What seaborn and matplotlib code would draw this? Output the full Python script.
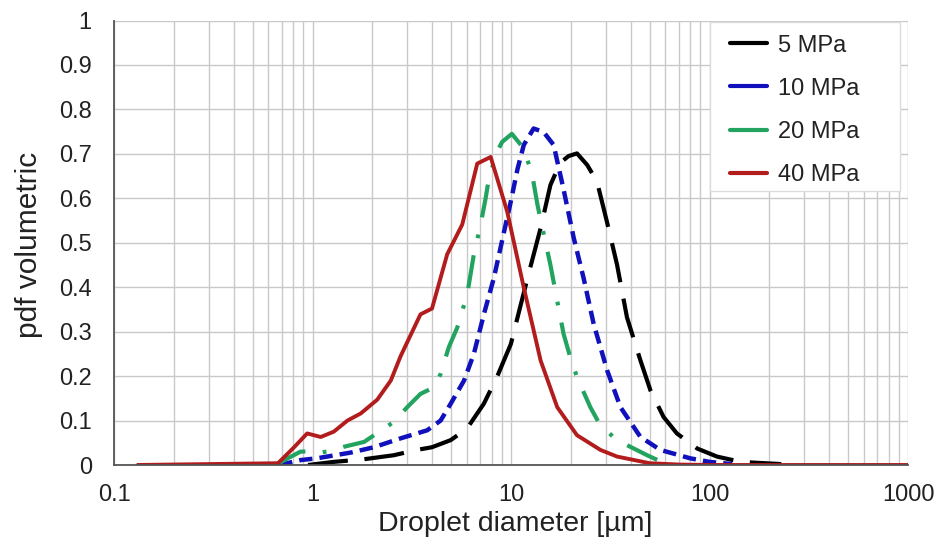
import numpy as np
import pandas as pd
import matplotlib
matplotlib.use("Agg")
import matplotlib.pyplot as plt
import seaborn as sns
from matplotlib.lines import Line2D
from matplotlib.patches import Rectangle
from matplotlib.ticker import FixedLocator, FuncFormatter, NullFormatter

# ---- data ----
labels = ["5 MPa", "10 MPa", "20 MPa", "40 MPa"]

x_5 = [0.95, 1.28, 1.82, 2.57, 3.36, 4.0, 4.97, 6.0, 7.3, 8.5, 9.98, 11.1, 12.5,
       14.1, 15.8, 17.7, 19.5, 21.5, 24.2, 27.1, 30.4, 34.2, 38.4, 44.9, 50.4, 58.7,
       68.5, 86.8, 109, 144, 230]
y_5 = [0, 0.007, 0.013, 0.022, 0.034, 0.04, 0.056, 0.082, 0.138, 0.198, 0.272, 0.354,
       0.444, 0.533, 0.63, 0.68, 0.695, 0.701, 0.675, 0.638, 0.548, 0.451, 0.332, 0.235,
       0.168, 0.108, 0.071, 0.037, 0.019, 0.007, 0.002]

x_10 = [0.68, 0.87, 1.05, 1.56, 2.04, 2.78, 3.78, 4.42, 4.97, 5.8, 6.5, 7.3, 8.2,
        9.24, 9.98, 10.8, 11.6, 13.0, 14.6, 16.4, 18.4, 20.7, 23.2, 26.1, 30.5, 35.6,
        44.9, 56.5, 80, 100, 130]
y_10 = [0, 0.011, 0.015, 0.028, 0.04, 0.06, 0.078, 0.1, 0.138, 0.19, 0.25, 0.339,
        0.421, 0.526, 0.593, 0.667, 0.72, 0.757, 0.749, 0.72, 0.62, 0.511, 0.421, 0.317,
        0.213, 0.13, 0.063, 0.034, 0.015, 0.007, 0.002]

x_20 = [0.65, 0.75, 0.87, 1.0, 1.1, 1.25, 1.44, 1.82, 2.57, 3.0, 3.5, 4.1, 4.42,
        4.86, 5.36, 6.02, 6.5, 7.03, 7.45, 7.74, 8.5, 9.03, 10.1, 11.6, 12.8, 13.6, 14.4,
        15.8, 17.1, 18.4, 19.9, 21.5, 25.1, 28.2, 34.2, 48.5, 60]
y_20 = [0, 0.015, 0.03, 0.031, 0.028, 0.032, 0.041, 0.052, 0.097, 0.13, 0.16, 0.175,
        0.205, 0.265, 0.309, 0.384, 0.474, 0.541, 0.6, 0.645, 0.705, 0.727, 0.745, 0.712,
        0.652, 0.585, 0.533, 0.45, 0.369, 0.295, 0.242, 0.198, 0.13, 0.089, 0.056, 0.022,
        0.003]

x_40 = [0.13, 0.67, 0.8, 0.94, 1.1, 1.28, 1.5, 1.75, 2.12, 2.48, 2.78, 3.5, 4.0, 4.77,
        5.68, 6.76, 7.9, 9.57, 11.6, 14.1, 17.1, 21.5, 28.2, 34.2, 50, 70, 100, 1000]
y_40 = [0, 0.004, 0.038, 0.071, 0.063, 0.075, 0.1, 0.116, 0.147, 0.19, 0.245, 0.339,
        0.352, 0.474, 0.541, 0.678, 0.693, 0.57, 0.399, 0.235, 0.13, 0.067, 0.034, 0.019,
        0.004, 0.001, 0, 0]

x_ticks = [0.1, 1, 10, 100, 1000]
y_ticks = [0, 0.1, 0.2, 0.3, 0.4, 0.5, 0.6, 0.7, 0.8, 0.9, 1]

series = [(x_5, y_5), (x_10, y_10), (x_20, y_20), (x_40, y_40)]
colors = ["#000000", "#1010bc", "#22a460", "#b21c1c"]
dashes = [(9.6, 4.0), (3.0, 1.6), (8.0, 4.2, 0.9, 4.2), None]
widths = [3.0, 3.2, 3.0, 2.8]

# ---- figure ----
sns.set_style("white")
plt.rcParams["font.family"] = ["Liberation Sans", "DejaVu Sans"]
fig = plt.figure(figsize=(9.38, 5.46), dpi=100)
L, R, B, T = 114, 908, 465, 20.5
ax = fig.add_axes([L / 938, 1 - B / 546, (R - L) / 938, (B - T) / 546])

for (xs, ys), c, d, w, lab in zip(series, colors, dashes, widths, labels):
    df = pd.DataFrame({"x": xs, "y": ys})
    sns.lineplot(data=df, x="x", y="y", ax=ax, color=c, lw=w, sort=False,
                 estimator=None, legend=False)
    ln = ax.lines[-1]
    if d is not None:
        ln.set_dashes(d)
    ln.set_solid_capstyle("butt")
    ln.set_dash_capstyle("butt")

ax.set_xscale("log")
ax.set_xlim(0.1, 1000)
ax.set_ylim(0, 1)

ax.xaxis.set_major_locator(FixedLocator(x_ticks))
ax.xaxis.set_major_formatter(FuncFormatter(lambda v, p: f"{v:g}"))
minors = [m * 10.0 ** e for e in range(-1, 3) for m in range(2, 10)]
ax.xaxis.set_minor_locator(FixedLocator(minors))
ax.xaxis.set_minor_formatter(NullFormatter())
ax.yaxis.set_major_locator(FixedLocator(y_ticks))
ax.yaxis.set_major_formatter(FuncFormatter(lambda v, p: f"{v:g}"))

ax.grid(True, which="major", color="#c9c9c9", lw=1.0)
ax.grid(True, which="minor", axis="x", color="#c9c9c9", lw=1.0)
ax.set_axisbelow(True)

for s in ["top", "right"]:
    ax.spines[s].set_visible(False)
for s in ["left", "bottom"]:
    ax.spines[s].set_color("#555555")
    ax.spines[s].set_linewidth(1.3)

ax.tick_params(axis="both", which="major", direction="out", length=5, width=1.2,
               color="#555555", labelsize=17, labelcolor="#222222")
ax.tick_params(axis="y", which="major", pad=11)
ax.tick_params(axis="x", which="major", pad=9)
ax.tick_params(axis="x", which="minor", length=0)

ax.set_xlabel("Droplet diameter [µm]", fontsize=20.5, color="#222222")
ax.set_ylabel("pdf volumetric", fontsize=21.5, color="#222222")
ax.xaxis.set_label_coords((515 - L) / (R - L), -(524 - B) / (B - T))
ax.yaxis.set_label_coords(-(L - 29) / (R - L), (B - 245) / (B - T))
ax.xaxis.label.set_va("center")
ax.yaxis.label.set_va("center")

# legend box
fig.patches.append(Rectangle((710 / 938, 1 - 191 / 546), 190 / 938, 169 / 546,
                             transform=fig.transFigure, facecolor="white",
                             edgecolor="#dcdcdc", lw=1.0, zorder=5))
handles = [Line2D([0], [0], color=c, lw=3) for c in colors]
leg = fig.legend(handles, labels, loc="upper left",
                 bbox_to_anchor=(730 / 938, 1 - 34.5 / 546), fontsize=17,
                 frameon=False, handlelength=1.57, handletextpad=0.47,
                 labelspacing=0.9, borderpad=0, borderaxespad=0)
leg.set_zorder(6)
for t in leg.get_texts():
    t.set_color("#222222")

fig.savefig("out.png", dpi=100, facecolor="white")
